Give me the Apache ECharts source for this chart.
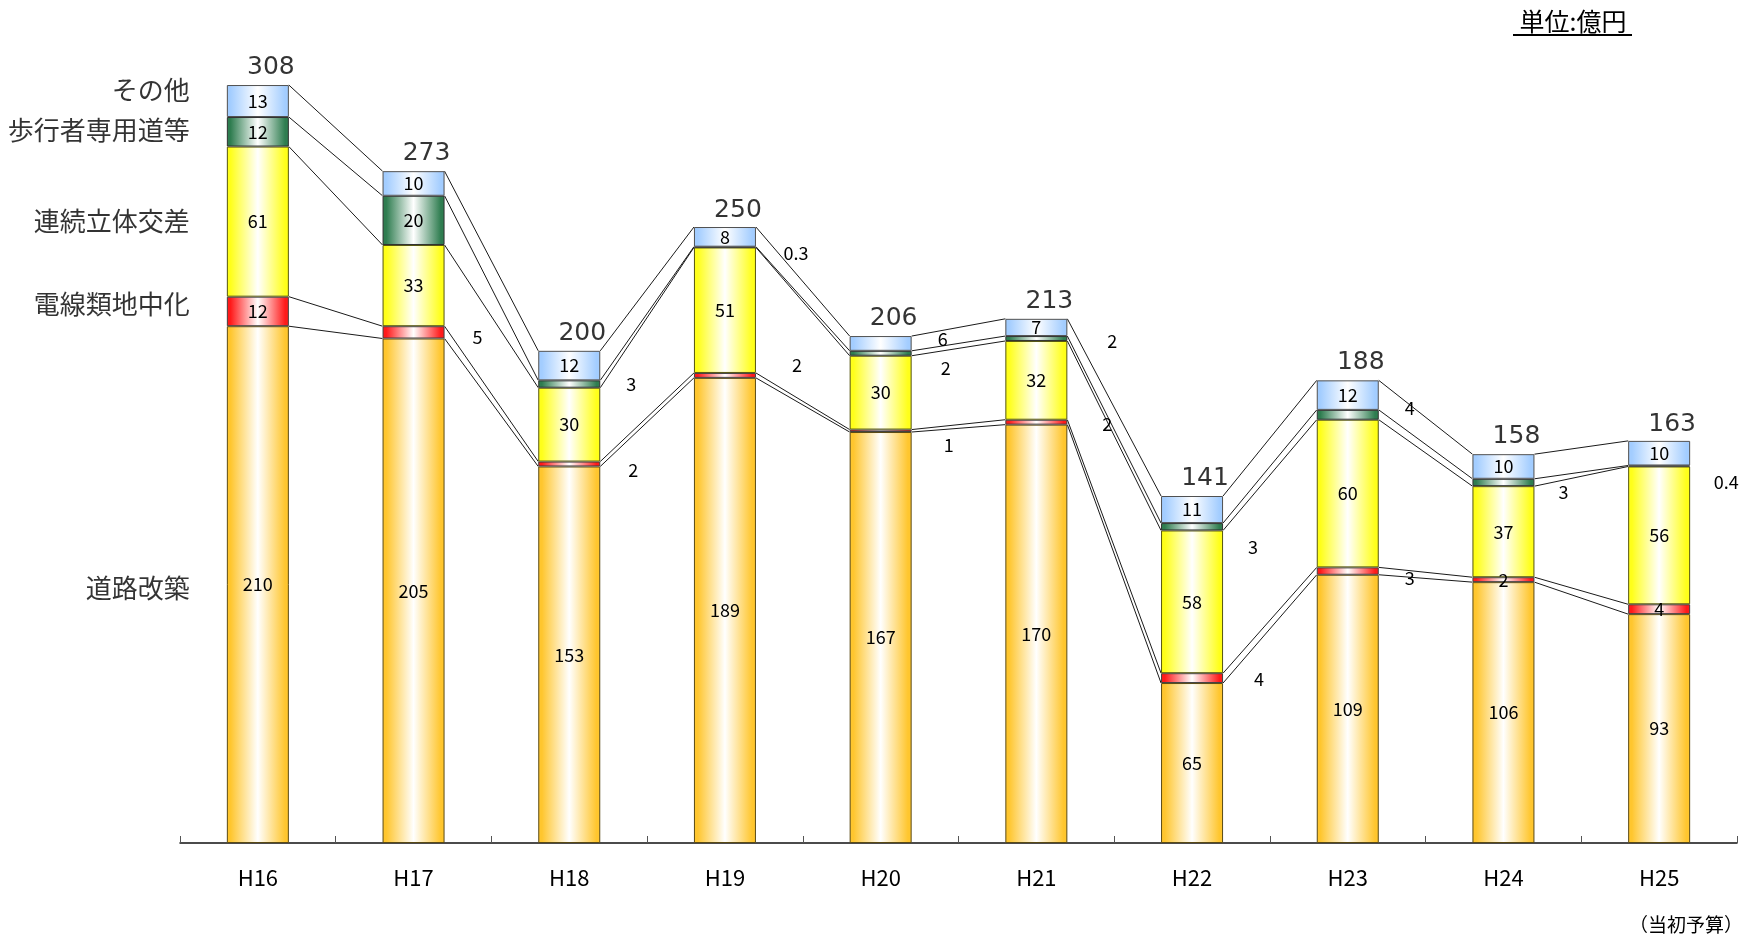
<!DOCTYPE html>
<html>
<head>
<meta charset="utf-8">
<title>道路事業費の推移</title>
<script src="https://cdn.jsdelivr.net/npm/echarts@6.0.0/dist/echarts.min.js"></script>
<style>
  html, body { margin: 0; padding: 0; background: #fff; }
  #chart { width: 1744px; height: 935px; }
</style>
</head>
<body>
<div id="chart"></div>
<script>
// 年度
const categories = ['H16', 'H17', 'H18', 'H19', 'H20', 'H21', 'H22', 'H23', 'H24', 'H25'];
// 各事業の金額（億円）、下から順に積み上げ
const roadData = [210, 205, 153, 189, 167, 170, 65, 109, 106, 93];
const cableData = [12, 5, 2, 2, 1, 2, 4, 3, 2, 4];
const crossingData = [61, 33, 30, 51, 30, 32, 58, 60, 37, 56];
const walkwayData = [12, 20, 3, 0.3, 2, 2, 3, 4, 3, 0.4];
const otherData = [13, 10, 12, 8, 6, 7, 11, 12, 10, 10];
// 合計（棒の上に表示）
const totals = [308, 273, 200, 250, 206, 213, 141, 188, 158, 163];
const seriesNames = ['道路改築', '電線類地中化', '連続立体交差', '歩行者専用道等', 'その他'];

const stackList = [roadData, cableData, crossingData, walkwayData, otherData];

// 見た目の設定（データとは別）
const barWidth = 62;
const edgeColors = ['#FFC62E', '#FF1A1A', '#FFFF1A', '#2F7D50', '#A3CDFF'];
const borderColors = ['#5a4a14', '#404040', '#55550f', '#303030', '#505050'];
// 棒の外（右側）に出すラベル: [系列, 年度, 右端からの距離, 縦ずれ]
const outsideLabels = [
  [1, 1, 33, 5], [3, 2, 31, 0], [1, 2, 33, 6], [3, 3, 40, 6], [1, 3, 41, -10],
  [4, 4, 31, -4], [3, 4, 34, 15], [1, 4, 37, 14], [3, 5, 45, 3], [1, 5, 40, 2],
  [3, 6, 30, 20], [1, 6, 36, 1], [3, 7, 31, -7], [1, 7, 31, 7], [3, 8, 29, 10],
  [3, 9, 36, 16]
];
// 左側の系列名の縦ずれ
const nameOffsets = [4, -7, 0, -2, -11];

function cumTop(s, i) {
  let sum = 0;
  for (let k = 0; k <= s; k++) sum += stackList[k][i];
  return sum;
}

function gradient(c) {
  return {
    type: 'linear', x: 0, y: 0, x2: 1, y2: 0,
    colorStops: [
      { offset: 0, color: c },
      { offset: 0.06, color: c },
      { offset: 0.5, color: '#ffffff' },
      { offset: 0.94, color: c },
      { offset: 1, color: c }
    ]
  };
}

let myChart = echarts.init(document.getElementById('chart'));

let barSeries = stackList.map(function (arr, s) {
  return {
    name: seriesNames[s],
    type: 'bar',
    stack: 'total',
    barWidth: barWidth,
    z: 3,
    itemStyle: {
      color: gradient(edgeColors[s]),
      borderColor: borderColors[s],
      borderWidth: 1
    },
    label: {
      show: true,
      position: 'inside',
      color: '#000',
      fontSize: 18,
      fontFamily: 'Noto Sans CJK JP',
      textBorderWidth: 0
    },
    data: arr.map(function (v, i) {
      let hit = outsideLabels.find(function (o) { return o[0] === s && o[1] === i; });
      if (!hit) return v;
      return {
        value: v,
        label: { position: 'right', distance: hit[2], align: 'center', offset: [0, hit[3]] }
      };
    })
  };
});

// 年度間の系列線
let connectorSeries = {
  type: 'custom',
  z: 2,
  silent: true,
  encode: { x: 0, y: 1 },
  data: categories.slice(0, -1).map(function (c, i) { return [i, 0]; }),
  renderItem: function (params, api) {
    let i = params.dataIndex;
    let half = barWidth / 2;
    let children = [];
    for (let s = 0; s < stackList.length; s++) {
      let p1 = api.coord([i, cumTop(s, i)]);
      let p2 = api.coord([i + 1, cumTop(s, i + 1)]);
      children.push({
        type: 'line',
        shape: { x1: p1[0] + half, y1: p1[1], x2: p2[0] - half, y2: p2[1] },
        style: { stroke: '#1a1a1a', lineWidth: 1 }
      });
    }
    return { type: 'group', children: children };
  }
};

// 合計ラベル
let totalSeries = {
  type: 'scatter',
  symbolSize: 0,
  silent: true,
  z: 5,
  data: totals,
  label: {
    show: true,
    position: 'top',
    distance: 5,
    offset: [13, 0],
    color: '#000',
    fontSize: 25,
    fontFamily: 'DejaVu Sans'
  }
};

// 左側の系列名（H16の各区分の横）
let nameSeries = {
  type: 'scatter',
  symbolSize: 0,
  silent: true,
  z: 5,
  data: seriesNames.map(function (n, s) {
    return {
      value: [0, cumTop(s, 0) - stackList[s][0] / 2],
      name: n,
      label: { offset: [0, nameOffsets[s]] }
    };
  }),
  label: {
    show: true,
    position: 'left',
    distance: 68,
    formatter: '{b}',
    color: '#000',
    fontSize: 26,
    fontFamily: 'Noto Sans CJK JP'
  }
};

let option = {
  animation: false,
  backgroundColor: '#ffffff',
  grid: { left: 180, right: 7, top: 55.5, bottom: 92 },
  xAxis: {
    type: 'category',
    data: categories,
    boundaryGap: true,
    axisLine: { lineStyle: { color: '#111', width: 1.5 } },
    axisTick: { show: true, inside: true, length: 7, lineStyle: { color: '#555' } },
    axisLabel: { color: '#000', fontSize: 22, margin: 24, fontFamily: 'Noto Sans CJK JP' }
  },
  yAxis: {
    type: 'value',
    min: 0,
    max: 320,
    show: false
  },
  graphic: [
    {
      type: 'text',
      x: 1573, y: 21,
      style: {
        text: '単位:億円',
        fill: '#000',
        font: '25px "Noto Sans CJK JP"',
        textAlign: 'center',
        textVerticalAlign: 'middle'
      }
    },
    {
      type: 'line',
      shape: { x1: 1513, y1: 35, x2: 1632, y2: 35 },
      style: { stroke: '#000', lineWidth: 2 }
    },
    {
      type: 'text',
      x: 1686, y: 925,
      style: {
        text: '（当初予算）',
        fill: '#000',
        font: '19px "Noto Sans CJK JP"',
        textAlign: 'center',
        textVerticalAlign: 'middle'
      }
    }
  ],
  series: barSeries.concat([connectorSeries, totalSeries, nameSeries])
};

myChart.setOption(option);
</script>
</body>
</html>
